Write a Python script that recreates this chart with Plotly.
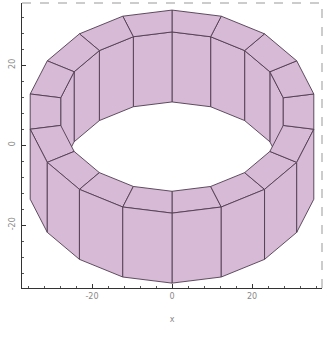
import numpy as np
import plotly.graph_objects as go

# Ring (thick annulus) seen obliquely from above, built as a polygonal mesh
n_sides = 18
start_angle = -90.0      # degrees; first vertex faces the viewer
outer_radius = 36.0
inner_radius = 28.25
half_height = 8.75       # projected half height of the wall
center_y = -0.4          # vertical position of the ring's centre
tilt = 0.705             # foreshortening of the ring's plan

x_ticks = [-20, 0, 20]
x_tick_text = ["-20", "0", "20"]
y_ticks = [-20, 0, 20]
y_tick_text = ["-20", "0", "20"]
x_range = [-37.5, 37.5]
y_range = [-35.75, 35.5]

fill_color = "rgb(214,186,214)"
edge_color = "rgba(80,60,80,0.9)"

angles = np.deg2rad(start_angle + 360.0 / n_sides * np.arange(n_sides + 1))


def project(radius, ang, z):
    return radius * np.cos(ang), radius * np.sin(ang) * tilt + z + center_y


def face(points):
    xs = [p[0] for p in points] + [points[0][0]]
    ys = [p[1] for p in points] + [points[0][1]]
    return go.Scatter(
        x=xs, y=ys, mode="lines", fill="toself",
        fillcolor=fill_color, line=dict(color=edge_color, width=1),
        hoverinfo="skip", showlegend=False,
    )


fig = go.Figure()
top, bottom = half_height, -half_height

# far inner wall (seen through the hole)
for k in range(n_sides):
    a0, a1 = angles[k], angles[k + 1]
    if np.sin((a0 + a1) / 2) > 1e-6:
        fig.add_trace(face([
            project(inner_radius, a0, top), project(inner_radius, a1, top),
            project(inner_radius, a1, bottom), project(inner_radius, a0, bottom),
        ]))

# top face
for k in range(n_sides):
    a0, a1 = angles[k], angles[k + 1]
    fig.add_trace(face([
        project(outer_radius, a0, top), project(outer_radius, a1, top),
        project(inner_radius, a1, top), project(inner_radius, a0, top),
    ]))

# near outer wall
for k in range(n_sides):
    a0, a1 = angles[k], angles[k + 1]
    if np.sin((a0 + a1) / 2) < -1e-6:
        fig.add_trace(face([
            project(outer_radius, a0, top), project(outer_radius, a1, top),
            project(outer_radius, a1, bottom), project(outer_radius, a0, bottom),
        ]))

axis_common = dict(
    showgrid=False, zeroline=False, showline=True, linecolor="#333",
    linewidth=1, ticks="inside", ticklen=4, tickcolor="#333",
    tickfont=dict(family="DejaVu Sans", size=8, color="#888"),
    minor=dict(ticks="inside", ticklen=2, dtick=4, tickcolor="#555"),
)

fig.update_layout(
    width=332, height=337,
    margin=dict(l=22, r=10, t=3, b=49),
    paper_bgcolor="white", plot_bgcolor="white",
    xaxis=dict(range=x_range, tickmode="array", tickvals=x_ticks,
               ticktext=x_tick_text,
               title=dict(text="x", font=dict(family="DejaVu Sans", size=8, color="#888"), standoff=16),
               **axis_common),
    yaxis=dict(range=y_range, tickmode="array", tickvals=y_ticks,
               ticktext=y_tick_text, tickangle=-90, ticklabelstandoff=3,
               **axis_common),
    shapes=[
        dict(type="line", xref="paper", yref="paper", x0=0, x1=1, y0=1, y1=1,
             line=dict(color="#999", width=1, dash="dash")),
        dict(type="line", xref="paper", yref="paper", x0=1, x1=1, y0=0, y1=1,
             line=dict(color="#999", width=1, dash="dash")),
    ],
)

fig.write_html("out.html")
